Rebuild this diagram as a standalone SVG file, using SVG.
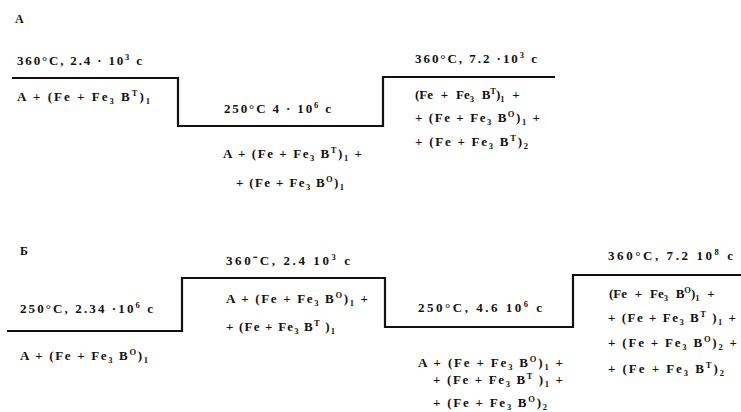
<svg xmlns="http://www.w3.org/2000/svg" width="741" height="412" viewBox="0 0 741 412">
<style>
.t{font-family:"Liberation Serif","Times New Roman",serif;font-weight:bold;font-size:13px;fill:#111}
.h{font-size:12px}
.w{word-spacing:4.5px}
.sb{font-size:8.5px;baseline-shift:-3px}
.sp{font-size:8.5px;baseline-shift:5px}
.ln{fill:none;stroke:#111;stroke-width:2.2}
</style>
<rect width="741" height="412" fill="#fff"/>
<g id="connectors">
<path class="ln" d="M12,78 H178 V126 H383 V77 H555"/>
<path class="ln" d="M7,331 H182 V278 H385 V327 H573 V275 H741"/>
</g>
<g id="panelA">
<text class="t h" x="15" y="23">A</text>
</g>
<g id="A1">
<text class="t" x="17" y="65" textLength="125" lengthAdjust="spacing">360°C, 2.4 · 10<tspan class="sp">3</tspan> c</text>
<text class="t" x="17" y="101" textLength="133" lengthAdjust="spacing">A + (Fe + Fe<tspan class="sb">3</tspan> B<tspan class="sp">T</tspan>)<tspan class="sb">1</tspan></text>
</g>
<g id="A2">
<text class="t" x="224" y="113" textLength="107" lengthAdjust="spacing">250°C 4 · 10<tspan class="sp">6</tspan> c</text>
<text class="t" x="223" y="158" textLength="139" lengthAdjust="spacing">A + (Fe + Fe<tspan class="sb">3</tspan> B<tspan class="sp">T</tspan>)<tspan class="sb">1</tspan> +</text>
<text class="t" x="236" y="187" textLength="108" lengthAdjust="spacing">+ (Fe + Fe<tspan class="sb">3</tspan> B<tspan class="sp">O</tspan>)<tspan class="sb">1</tspan></text>
</g>
<g id="A3">
<text class="t" x="415" y="63" textLength="122" lengthAdjust="spacing">360°C, 7.2 ·10<tspan class="sp">3</tspan> c</text>
<text class="t w" x="415" y="99">(Fe + Fe<tspan class="sb">3</tspan> B<tspan class="sp">T</tspan>)<tspan class="sb">1</tspan> +</text>
<text class="t" x="415" y="122" textLength="125" lengthAdjust="spacing">+ (Fe + Fe<tspan class="sb">3</tspan> B<tspan class="sp">O</tspan>)<tspan class="sb">1</tspan> +</text>
<text class="t" x="415" y="146" textLength="113" lengthAdjust="spacing">+ (Fe + Fe<tspan class="sb">3</tspan> B<tspan class="sp">T</tspan>)<tspan class="sb">2</tspan></text>
</g>
<g id="panelB">
<text class="t h" x="20" y="255">Б</text>
</g>
<g id="B1">
<text class="t" x="20" y="313" textLength="133" lengthAdjust="spacing">250°C, 2.34 ·10<tspan class="sp">6</tspan> c</text>
<text class="t" x="20" y="360" textLength="128" lengthAdjust="spacing">A + (Fe + Fe<tspan class="sb">3</tspan> B<tspan class="sp">O</tspan>)<tspan class="sb">1</tspan></text>
</g>
<g id="B2">
<text class="t" x="226" y="265" textLength="124" lengthAdjust="spacing">360⁻C, 2.4  10<tspan class="sp">3</tspan> c</text>
<text class="t" x="226" y="303" textLength="142" lengthAdjust="spacing">A + (Fe + Fe<tspan class="sb">3</tspan> B<tspan class="sp">O</tspan>)<tspan class="sb">1</tspan> +</text>
<text class="t" x="226" y="331" textLength="109" lengthAdjust="spacing">+ (Fe + Fe<tspan class="sb">3</tspan> B<tspan class="sp">T</tspan> )<tspan class="sb">1</tspan></text>
</g>
<g id="B3">
<text class="t" x="418" y="312" textLength="124" lengthAdjust="spacing">250°C, 4.6  10<tspan class="sp">6</tspan> c</text>
<text class="t" x="418" y="367" textLength="145" lengthAdjust="spacing">A + (Fe + Fe<tspan class="sb">3</tspan> B<tspan class="sp">O</tspan>)<tspan class="sb">1</tspan> +</text>
<text class="t" x="433" y="384" textLength="130" lengthAdjust="spacing">+ (Fe + Fe<tspan class="sb">3</tspan> B<tspan class="sp">T</tspan> )<tspan class="sb">1</tspan>  +</text>
<text class="t" x="433" y="407" textLength="114" lengthAdjust="spacing">+ (Fe + Fe<tspan class="sb">3</tspan> B<tspan class="sp">O</tspan>)<tspan class="sb">2</tspan></text>
</g>
<g id="B4">
<text class="t" x="608" y="260" textLength="125" lengthAdjust="spacing">360°C, 7.2  10<tspan class="sp">8</tspan> c</text>
<text class="t w" x="609" y="298">(Fe + Fe<tspan class="sb">3</tspan> B<tspan class="sp">O</tspan>)<tspan class="sb">1</tspan> +</text>
<text class="t" x="608" y="322" textLength="128" lengthAdjust="spacing">+ (Fe + Fe<tspan class="sb">3</tspan> B<tspan class="sp">T</tspan> )<tspan class="sb">1</tspan> +</text>
<text class="t" x="608" y="347" textLength="129" lengthAdjust="spacing">+ (Fe + Fe<tspan class="sb">3</tspan> B<tspan class="sp">O</tspan>)<tspan class="sb">2</tspan> +</text>
<text class="t" x="608" y="373" textLength="116" lengthAdjust="spacing">+ (Fe + Fe<tspan class="sb">3</tspan> B<tspan class="sp">T</tspan>)<tspan class="sb">2</tspan></text>
</g>
</svg>
